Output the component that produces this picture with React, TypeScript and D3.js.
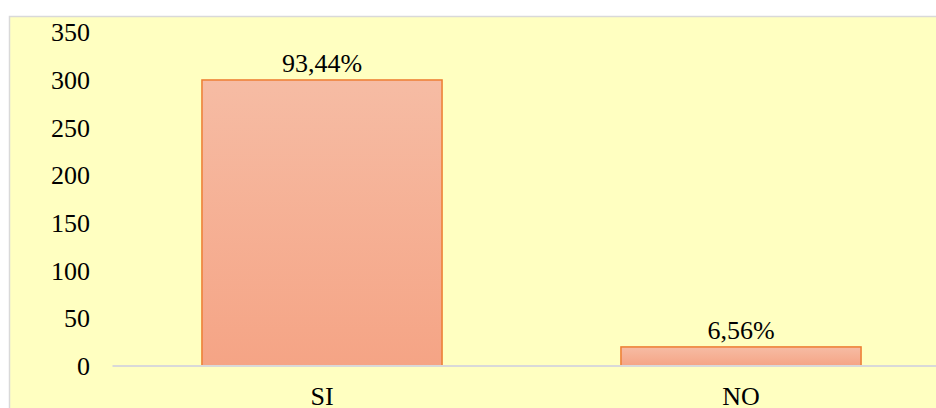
import React from "react";
import * as d3 from "d3";

// values
const categories = ["SI", "NO"];
const counts = [300, 20];
const pctLabels = ["93,44%", "6,56%"];
const yTicks = [0, 50, 100, 150, 200, 250, 300, 350];

const W = 936;
const H = 408;

export default function App() {
  const x = d3
    .scaleBand<string>()
    .domain(categories)
    .range([112.5, 950.5])
    .paddingInner(0.427)
    .paddingOuter(0.2135);
  const y = d3.scaleLinear().domain([0, 350]).range([366, 32.3]);
  const txt: React.CSSProperties = { fontFamily: "Liberation Serif, Times New Roman, serif", fontSize: "26px" };

  return (
    <div style={{ position: "fixed", left: 0, top: 0 }}>
      <svg width={W} height={H} style={{ display: "block" }}>
        <defs>
          <linearGradient id="barFill" x1="0" y1="0" x2="0" y2="1">
            <stop offset="0" stopColor="#F6BCA4" />
            <stop offset="1" stopColor="#F5A485" />
          </linearGradient>
        </defs>
        <rect x={0} y={0} width={W} height={H} fill="#fff" />
        <rect x={9.5} y={16.5} width={W + 20} height={H + 20} fill="#FFFFC1" stroke="#D9D9D9" strokeWidth={1.5} />

        {/* y tick labels */}
        {yTicks.map((t) => (
          <text key={t} x={90} y={y(t)} dy="0.35em" textAnchor="end" style={txt} fill="#000">
            {t}
          </text>
        ))}

        {/* bars */}
        {categories.map((c, i) => (
          <rect
            key={c}
            x={x(c)!}
            y={y(counts[i])}
            width={x.bandwidth()}
            height={y(0) - y(counts[i])}
            fill="url(#barFill)"
            stroke="#ED7D31"
            strokeWidth={1.5}
          />
        ))}

        {/* baseline */}
        <line x1={112.5} x2={W} y1={y(0)} y2={y(0)} stroke="#D9D9D9" strokeWidth={2} />

        {/* data labels */}
        {categories.map((c, i) => (
          <text key={c} x={x(c)! + x.bandwidth() / 2} y={y(counts[i]) - 8} textAnchor="middle" style={txt} fill="#000">
            {pctLabels[i]}
          </text>
        ))}

        {/* category labels */}
        {categories.map((c) => (
          <text key={c} x={x(c)! + x.bandwidth() / 2} y={405} textAnchor="middle" style={txt} fill="#000">
            {c}
          </text>
        ))}
      </svg>
    </div>
  );
}
